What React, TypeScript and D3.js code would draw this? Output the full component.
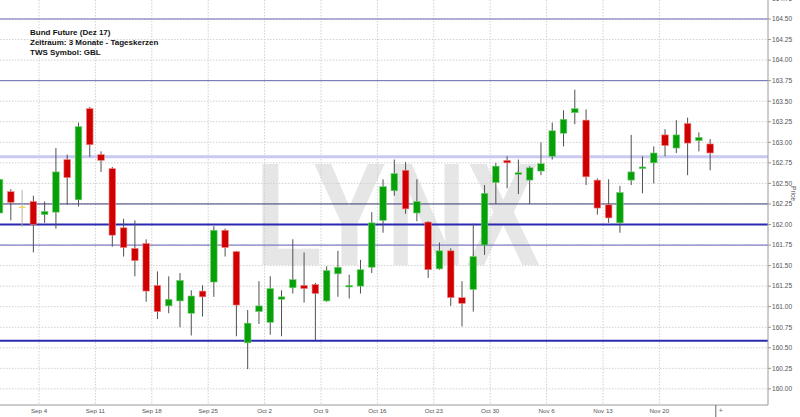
import React from "react";
import * as d3 from "d3";

const dates = [
  "Aug 29","Aug 30","Aug 31","Sep 1",
  "Sep 4","Sep 5","Sep 6","Sep 7","Sep 8",
  "Sep 11","Sep 12","Sep 13","Sep 14","Sep 15",
  "Sep 18","Sep 19","Sep 20","Sep 21","Sep 22",
  "Sep 25","Sep 26","Sep 27","Sep 28","Sep 29",
  "Oct 2","Oct 3","Oct 4","Oct 5","Oct 6",
  "Oct 9","Oct 10","Oct 11","Oct 12","Oct 13",
  "Oct 16","Oct 17","Oct 18","Oct 19","Oct 20",
  "Oct 23","Oct 24","Oct 25","Oct 26","Oct 27",
  "Oct 30","Oct 31","Nov 1","Nov 2","Nov 3",
  "Nov 6","Nov 7","Nov 8","Nov 9","Nov 10",
  "Nov 13","Nov 14","Nov 15","Nov 16","Nov 17",
  "Nov 20","Nov 21","Nov 22","Nov 23","Nov 24",
];

const open = [
  162.14,162.40,162.21,162.28,
  162.12,162.15,162.79,162.30,163.41,
  162.85,162.68,161.96,161.71,161.77,
  161.26,161.01,161.07,160.92,161.19,
  161.30,161.93,161.67,160.56,160.94,
  160.81,161.09,161.23,161.26,161.27,
  161.07,161.40,161.24,161.25,161.48,
  162.05,162.41,162.66,162.14,162.03,
  161.46,161.68,161.11,161.21,161.75,
  162.51,162.78,162.61,162.54,162.65,
  162.83,163.11,163.36,163.27,162.54,
  162.24,162.02,162.54,162.68,162.75,
  163.09,162.93,163.23,163.02,162.98,
];
const high = [
  162.57,162.43,162.42,162.35,
  162.28,162.93,162.85,163.24,163.43,
  162.89,162.70,162.07,162.05,161.82,
  161.43,161.37,161.41,161.20,161.26,
  161.98,161.95,161.68,160.96,161.31,
  161.37,161.20,161.82,161.66,161.29,
  161.49,161.68,161.39,161.57,162.15,
  162.55,162.79,162.76,162.55,162.04,
  161.78,161.71,161.31,162.01,162.48,
  162.75,162.83,162.79,162.71,163.00,
  163.24,163.39,163.64,163.40,162.56,
  162.55,162.47,163.09,162.83,162.95,
  163.16,163.27,163.30,163.12,163.04,
];
const low = [
  162.12,162.05,161.97,161.66,
  162.02,161.95,162.24,162.22,162.82,
  162.64,161.73,161.61,161.37,161.06,
  160.85,160.92,160.75,160.65,160.88,
  161.12,161.61,160.64,160.24,160.79,
  160.66,160.64,161.16,161.05,160.59,
  161.06,161.12,161.10,161.16,161.41,
  161.90,162.35,162.13,162.04,161.35,
  161.45,161.01,160.76,160.94,161.63,
  162.25,162.44,162.37,162.25,162.60,
  162.79,162.95,163.22,162.48,162.12,
  162.02,161.90,162.48,162.38,162.50,
  162.83,162.87,162.60,162.89,162.66,
];
const close = [
  162.55,162.27,162.21,162.00,
  162.16,162.64,162.57,163.19,162.97,
  162.78,161.87,161.72,161.56,161.19,
  160.94,161.09,161.32,161.13,161.12,
  161.93,161.72,161.02,160.80,161.01,
  161.22,161.12,161.33,161.22,161.16,
  161.44,161.48,161.26,161.45,162.02,
  162.46,162.62,162.19,162.28,161.45,
  161.68,161.11,161.04,161.61,162.38,
  162.71,162.75,162.63,162.69,162.74,
  163.14,163.28,163.41,162.58,162.20,
  162.08,162.39,162.64,162.70,162.87,
  162.96,163.09,162.99,163.06,162.87,
];

const weekLabels = ["Sep 4","Sep 11","Sep 18","Sep 25","Oct 2","Oct 9","Oct 16","Oct 23","Oct 30","Nov 6","Nov 13","Nov 20"];
const priceTicks = [160.0,160.25,160.5,160.75,161.0,161.25,161.5,161.75,162.0,162.25,162.5,162.75,163.0,163.25,163.5,163.75,164.0,164.25,164.5,164.75];

// horizontal reference lines: level, colour, width
const refLevels = [164.5, 163.75, 162.825, 162.25, 162.0, 161.75, 160.586];
const refColors = ["#6a6ab4", "#6a6ab4", "#c9c9f2", "#3c3c78", "#2a2ab0", "#8080c8", "#2a2ab0"];
const refWidths = [1, 1, 3, 1, 2, 1.3, 2];

const titleLines = ["Bund Future (Dez 17)", "Zeitraum: 3 Monate - Tageskerzen", "TWS Symbol: GBL"];

const W = 800, H = 417;
const plotRight = 768, plotBottom = 405;

export default function App() {
  const n = dates.length;
  const x = d3.scaleLinear().domain([0, n]).range([-6.12, 715.8]);
  const y = d3.scaleLinear().domain([160, 164.5]).range([388.9, 19]);
  const bodyW = 6.6;

  return (
    <svg width={W} height={H} style={{ position: "absolute", left: 0, top: 0, display: "block", background: "#fff" }}
      fontFamily="'Liberation Sans', Arial, sans-serif">
      <defs>
        <clipPath id="plotClip"><rect x={0} y={0} width={plotRight} height={plotBottom} /></clipPath>
      </defs>
      <rect x={0} y={0} width={W} height={H} fill="#fff" />
      <g clipPath="url(#plotClip)">
        <text x={255} y={265} fontSize={147} fontWeight="bold" fill="#e6e6e6"
          textLength={285} lengthAdjust="spacingAndGlyphs">LYNX</text>
        {priceTicks.map((t) => (
          <line key={"hg" + t} x1={0} x2={plotRight} y1={y(t)} y2={y(t)} stroke="#d0d0d0" strokeDasharray="1.5,1.5" strokeWidth={1} />
        ))}
        {weekLabels.map((w) => {
          const i = dates.indexOf(w);
          return <line key={"vg" + w} x1={x(i)} x2={x(i)} y1={0} y2={plotBottom} stroke="#d0d0d0" strokeDasharray="1.5,1.5" strokeWidth={1} />;
        })}
        {refLevels.map((v, k) => (
          <line key={"ref" + k} x1={0} x2={plotRight} y1={y(v)} y2={y(v)} stroke={refColors[k]} strokeWidth={refWidths[k]} />
        ))}
        {dates.map((d, i) => {
          const cx = x(i + 0.5);
          const o = open[i], c = close[i];
          const up = c >= o;
          const doji = Math.abs(c - o) < 0.005;
          const top = y(Math.max(o, c));
          const bot = y(Math.min(o, c));
          return (
            <g key={d}>
              <line x1={cx} x2={cx} y1={y(high[i])} y2={y(low[i])} stroke={doji ? "#b0b0b0" : "#505050"} strokeWidth={1} />
              {doji ? (
                <line x1={cx - bodyW / 2} x2={cx + bodyW / 2} y1={top} y2={top} stroke="#f0d040" strokeWidth={1.2} />
              ) : (
                <rect x={cx - bodyW / 2} y={top} width={bodyW} height={Math.max(bot - top, 1.5)}
                  fill={up ? "#08a008" : "#d00000"} stroke={up ? "#7ad07a" : "#f08a8a"} strokeWidth={0.6} />
              )}
            </g>
          );
        })}
        {titleLines.map((t, k) => (
          <text key={t} x={30} y={34.5 + k * 10.3} fontSize={8} fontWeight="bold" fill="#111">{t}</text>
        ))}
      </g>
      {/* axes */}
      <line x1={plotRight} x2={plotRight} y1={0} y2={plotBottom} stroke="#9a9a9a" strokeWidth={1} />
      <line x1={0} x2={plotRight} y1={plotBottom} y2={plotBottom} stroke="#9a9a9a" strokeWidth={1} />
      {priceTicks.map((t) => (
        <g key={"yt" + t}>
          <line x1={plotRight} x2={plotRight + 3} y1={y(t)} y2={y(t)} stroke="#9a9a9a" />
          <text x={plotRight + 4} y={y(t) + 2.3} fontSize={6.6} fill="#555">{t.toFixed(2)}</text>
        </g>
      ))}
      <text transform={`translate(791,186) rotate(90)`} fontSize={6.6} fill="#555">Price</text>
      {weekLabels.map((w) => {
        const i = dates.indexOf(w);
        return (
          <text key={"xl" + w} x={x(i)} y={413} fontSize={6.2} fill="#555" textAnchor="middle">{w}</text>
        );
      })}
      <line x1={x(n)} x2={x(n)} y1={plotBottom} y2={H} stroke="#666" strokeWidth={1} />
      <text x={x(n) + 3} y={413} fontSize={7} fill="#666">+</text>
    </svg>
  );
}
